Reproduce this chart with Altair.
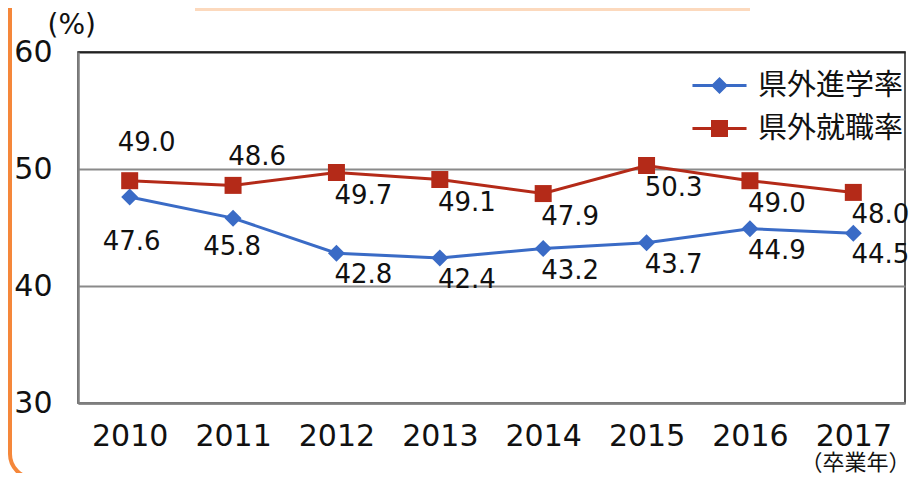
import altair as alt
import pandas as pd

years = ['2010', '2011', '2012', '2013', '2014', '2015', '2016', '2017']
shingaku = [47.6, 45.8, 42.8, 42.4, 43.2, 43.7, 44.9, 44.5]
shushoku = [49.0, 48.6, 49.7, 49.1, 47.9, 50.3, 49.0, 48.0]
series = ['県外進学率', '県外就職率']
y_ticks = [30, 40, 50, 60]

colors = ['#3A6BC6', '#B42A18']
FONT = 'DejaVu Sans'
JP = 'Noto Sans CJK JP'
INK = '#111111'

df = pd.concat([
    pd.DataFrame({'年': years, '系列': series[0], '率': shingaku}),
    pd.DataFrame({'年': years, '系列': series[1], '率': shushoku}),
])

base = alt.Chart(df).encode(
    x=alt.X('年:O', scale=alt.Scale(type='point', padding=0.5),
            axis=alt.Axis(title='（卒業年）', titleFont=JP, titleFontSize=22,
                          titleFontWeight='normal', titleColor=INK,
                          titleX=832, titleY=59, titleAlign='right',
                          titleBaseline='middle', labelAngle=0,
                          labelFont=FONT, labelFontSize=30, labelColor=INK,
                          labelPadding=18, ticks=False, grid=False,
                          domainColor='#7f7f7f', domainWidth=2.5)),
    y=alt.Y('率:Q', scale=alt.Scale(domain=[30, 60], nice=False, zero=False),
            axis=alt.Axis(values=y_ticks, title='(%)', titleAngle=0,
                          titleX=-31, titleY=-27, titleAlign='left',
                          titleBaseline='middle', titleFont=FONT,
                          titleFontSize=28, titleFontWeight='normal',
                          titleColor=INK, labelFont=FONT, labelFontSize=30,
                          labelColor=INK, labelPadding=26, ticks=False,
                          grid=True, gridWidth=2,
                          gridColor={'condition': {'test': 'datum.value == 60',
                                                   'value': '#222222'},
                                     'value': '#8a8a8a'},
                          domainColor='#7f7f7f', domainWidth=2.5)),
    color=alt.Color('系列:N', scale=alt.Scale(domain=series, range=colors),
                    legend=None),
)

lines = base.mark_line(strokeWidth=3)


def points(name, shape):
    return base.transform_filter(
        alt.FieldEqualPredicate(field='系列', equal=name)
    ).mark_point(shape=shape, filled=True, size=289, opacity=1)


def labels(name, yrs, dx, dy):
    return base.transform_filter(
        alt.FieldEqualPredicate(field='系列', equal=name)
    ).transform_filter(
        alt.FieldOneOfPredicate(field='年', oneOf=yrs)
    ).mark_text(font=FONT, fontSize=26, dx=dx, dy=dy).encode(
        text=alt.Text('率:Q', format='.1f'), color=alt.value(INK))


# legend: line segment with its marker, drawn through a custom symbol path
# (symbol size 289 -> one path unit is 8.5 px)
line_path = 'M-3.18,-0.18L3.18,-0.18L3.18,0.18L-3.18,0.18Z'
legend_shapes = [line_path + 'M0,-1L1,0L0,1L-1,0Z',
                 line_path + 'M-1,-1L1,-1L1,1L-1,1Z']


def legend_def():
    return alt.Legend(title=None, orient='none', legendX=627, legendY=19,
                      labelFont=JP, labelFontSize=29, labelColor=INK,
                      labelOffset=24, rowPadding=13, symbolSize=289,
                      symbolStrokeWidth=0, symbolOpacity=1)


# kept ahead of the line layer so its legend is not merged into the
# hidden colour legend
legend_layer = alt.Chart(df).transform_filter('false').mark_point(
    filled=True, opacity=1).encode(
    fill=alt.Fill('系列:N', scale=alt.Scale(domain=series, range=colors),
                  legend=legend_def()),
    shape=alt.Shape('系列:N', scale=alt.Scale(domain=series, range=legend_shapes),
                    legend=legend_def()),
)

# orange panel frame and the edge of the title box above it
one = pd.DataFrame({'k': [0]})
frame = alt.Chart(one).mark_rect(
    cornerRadius=24, fillOpacity=0, stroke='#F5873A', strokeWidth=4).encode(
    x=alt.value(-68), x2=alt.value(900), y=alt.value(-90), y2=alt.value(426))
title_edge = alt.Chart(one).mark_rect(color='#FCD9BD').encode(
    x=alt.value(117), x2=alt.value(672), y=alt.value(-44), y2=alt.value(-41))

chart = alt.layer(
    frame, title_edge, legend_layer, lines,
    points(series[0], 'diamond'), points(series[1], 'square'),
    labels(series[1], ['2010'], 17, -38),
    labels(series[1], ['2011'], 24, -28),
    labels(series[1], years[2:], 27, 23),
    labels(series[0], ['2010'], 2, 45),
    labels(series[0], ['2011'], -1, 29),
    labels(series[0], years[2:], 27, 22),
).properties(
    width=827, height=351,
    padding={'left': 70, 'top': 44, 'right': 7, 'bottom': 70},
    autosize=alt.AutoSizeParams(type='none'),
).configure_view(stroke='#222222', strokeWidth=1.5)

chart.save('out.html', embed_options={'renderer': 'svg', 'actions': False})
